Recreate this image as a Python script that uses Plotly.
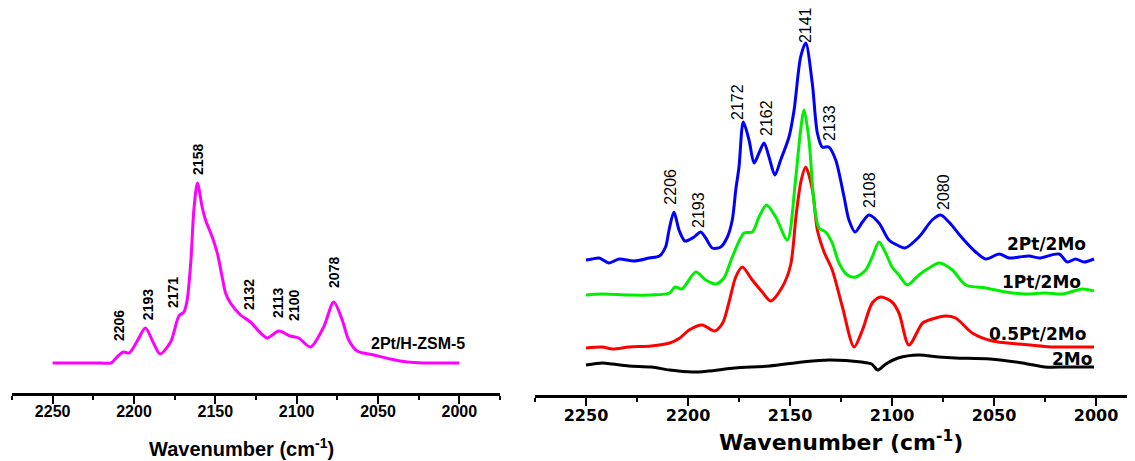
import plotly.graph_objects as go

# ---------------- Left panel: 2Pt/H-ZSM-5 ----------------
wn_zsm = [2250, 2240, 2230, 2220, 2214, 2211, 2206.6, 2203, 2198, 2193, 2188, 2184,
          2177.5, 2172.4, 2169.3, 2167.3, 2165, 2163.2, 2161, 2158.1, 2156, 2151.9,
          2148.8, 2145.8, 2143.7, 2140.7, 2134.5, 2128.4, 2122.2, 2118, 2111, 2104,
          2098.7, 2091.5, 2083.4, 2077.2, 2072, 2068, 2062.8, 2052.6, 2042.4, 2032,
          2022, 2011.7, 2000]
ab_zsm = [0.30, 0.30, 0.30, 0.30, 0.30, 0.35, 0.41, 0.40, 0.52, 0.65, 0.50, 0.39,
          0.51, 0.77, 0.81, 0.93, 1.33, 1.83, 2.10, 1.86, 1.73, 1.56,
          1.40, 1.16, 1.00, 0.90, 0.78, 0.71, 0.60, 0.55, 0.62, 0.57,
          0.55, 0.46, 0.66, 0.91, 0.73, 0.53, 0.42, 0.38, 0.34, 0.31,
          0.30, 0.30, 0.30]

# ---------------- Right panel ----------------
wn_2mo = [2250, 2242, 2237, 2229, 2218, 2209, 2198, 2190, 2177, 2160, 2144, 2131,
          2115, 2110, 2107, 2103, 2097, 2087, 2077, 2069, 2052, 2036, 2025, 2015, 2001]
ab_2mo = [0.30, 0.32, 0.31, 0.29, 0.28, 0.25, 0.23, 0.24, 0.27, 0.29, 0.33, 0.35,
          0.33, 0.31, 0.25, 0.31, 0.37, 0.40, 0.38, 0.37, 0.36, 0.32, 0.28, 0.28, 0.28]

wn_05pt = [2250, 2242, 2237, 2229, 2218, 2209, 2204, 2199.5, 2193, 2187, 2183, 2180,
           2176.6, 2173.4, 2168.5, 2163.6, 2159.5, 2153.8, 2149.7, 2147, 2144.5, 2142.3,
           2139, 2136.6, 2133.3, 2129.3, 2124.3, 2118.6, 2114.5, 2109.7, 2105.5, 2100,
           2096.6, 2091.7, 2085, 2080.3, 2073.7, 2068.8, 2060.7, 2050.8, 2037.7, 2021.4,
           2011.6, 2001]
ab_05pt = [0.47, 0.48, 0.46, 0.48, 0.49, 0.52, 0.57, 0.65, 0.70, 0.64, 0.72, 0.92,
           1.18, 1.28, 1.15, 1.03, 0.94, 1.08, 1.30, 1.80, 2.15, 2.28,
           2.05, 1.65, 1.43, 1.25, 0.88, 0.48, 0.65, 0.92, 0.98, 0.93,
           0.82, 0.50, 0.72, 0.76, 0.79, 0.77, 0.62, 0.54, 0.51, 0.48,
           0.48, 0.48]

wn_1pt = [2250, 2242, 2229, 2218, 2209, 2206.4, 2203, 2196.2, 2191.3, 2186.4, 2182.4,
          2178.3, 2172.5, 2168.5, 2165.2, 2161.5, 2157, 2151.3, 2147.3, 2144.8, 2143.1,
          2140.7, 2138.2, 2135.8, 2132.5, 2129.3, 2126, 2121.9, 2117.8, 2112.9, 2109.7,
          2106.4, 2103.1, 2100, 2096.6, 2092.5, 2086.8, 2081.9, 2076.7, 2070.4, 2063.9,
          2054, 2044.3, 2034.5, 2024.6, 2016.5, 2006.7, 2001]
ab_1pt = [1.00, 1.01, 1.00, 1.00, 1.02, 1.08, 1.06, 1.23, 1.15, 1.11, 1.17,
          1.38, 1.62, 1.63, 1.78, 1.90, 1.78, 1.55, 2.15, 2.65, 2.85,
          2.55, 1.92, 1.67, 1.63, 1.52, 1.32, 1.20, 1.18, 1.25, 1.38,
          1.53, 1.42, 1.28, 1.20, 1.10, 1.20, 1.27, 1.32, 1.25, 1.10,
          1.07, 1.03, 1.01, 1.02, 1.01, 1.06, 1.04]

wn_2pt = [2250, 2247, 2243.6, 2238.7, 2233.8, 2226.5, 2219, 2214, 2211, 2209.3, 2206.9,
          2204.4, 2201.5, 2197, 2193.8, 2191.3, 2188.1, 2184, 2180.7, 2178.3, 2176.6,
          2175, 2172.9, 2170.1, 2167.6, 2165.2, 2162.7, 2160.3, 2157.4, 2154.6, 2150.5,
          2148, 2144.8, 2142.3, 2139.1, 2136.6, 2134.2, 2131, 2127.6, 2123.5, 2121.1,
          2118.1, 2114.5, 2111.3, 2106.4, 2101.5, 2096.6, 2093.6, 2086.8, 2080.3, 2076.2,
          2072.1, 2065.6, 2059, 2054, 2047.5, 2042.6, 2037.7, 2032.8, 2027.9, 2018.1,
          2014.1, 2010, 2005.9, 2001]
ab_2pt = [1.35, 1.36, 1.37, 1.32, 1.36, 1.34, 1.37, 1.39, 1.48, 1.65, 1.83,
          1.65, 1.54, 1.58, 1.63, 1.57, 1.47, 1.48, 1.58, 1.75, 2.05,
          2.28, 2.73, 2.55, 2.32, 2.42, 2.52, 2.38, 2.20, 2.35, 2.58,
          2.85, 3.38, 3.52, 3.12, 2.62, 2.48, 2.48, 2.35, 1.98, 1.75,
          1.63, 1.73, 1.80, 1.72, 1.55, 1.49, 1.47, 1.58, 1.75, 1.80,
          1.73, 1.57, 1.43, 1.36, 1.41, 1.37, 1.38, 1.39, 1.37, 1.41,
          1.33, 1.36, 1.33, 1.36]

# peak labels: (text, x in cm-1, y-bottom in a.u.)
left_labels = [("2206", 2209.5, 0.50), ("2193", 2191.6, 0.71), ("2171", 2176.3, 0.83),
               ("2158", 2161.0, 2.16), ("2132", 2129.6, 0.81), ("2113", 2111.8, 0.73),
               ("2100", 2102.0, 0.70), ("2078", 2077.4, 1.03)]
right_labels = [("2206", 2209.0, 1.88), ("2193", 2195.1, 1.65), ("2172", 2176.0, 2.73),
                ("2162", 2161.8, 2.57), ("2141", 2142.6, 3.50), ("2133", 2130.9, 2.52),
                ("2108", 2111.3, 1.85), ("2080", 2075.0, 1.83)]
series_names = [("2Pt/2Mo", 2024.5, 1.51), ("1Pt/2Mo", 2026.5, 1.13),
                ("0.5Pt/2Mo", 2028.9, 0.61), ("2Mo", 2011.8, 0.36)]

tick_vals = [2250, 2200, 2150, 2100, 2050, 2000]
tick_text = ["2250", "2200", "2150", "2100", "2050", "2000"]

# page body adds an 8 px margin; figure is sized to fit the window
W, H = 1127, 453

fig = go.Figure()
fig.add_trace(go.Scatter(x=wn_zsm, y=ab_zsm, mode="lines", xaxis="x", yaxis="y",
                         line=dict(color="#FF00FF", width=3, shape="spline", smoothing=0.8),
                         showlegend=False))
for wn, ab, col in [(wn_2mo, ab_2mo, "#000000"), (wn_05pt, ab_05pt, "#FF0000"),
                    (wn_1pt, ab_1pt, "#00EE00"), (wn_2pt, ab_2pt, "#0000FF")]:
    fig.add_trace(go.Scatter(x=wn, y=ab, mode="lines", xaxis="x2", yaxis="y2",
                             line=dict(color=col, width=3, shape="spline", smoothing=0.8),
                             showlegend=False))

ann = []
for t, x, y in left_labels:
    ann.append(dict(text=t, x=x, y=y, xref="x", yref="y", textangle=-90, showarrow=False,
                    xanchor="center", yanchor="bottom",
                    font=dict(family="Arial", size=14, color="black", weight="bold")))
ann.append(dict(text="2Pt/H-ZSM-5", x=2025.2, y=0.50, xref="x", yref="y", showarrow=False,
                xanchor="center", yanchor="middle",
                font=dict(family="Arial", size=16, color="black", weight="bold")))
for t, x, y in right_labels:
    ann.append(dict(text=t, x=x, y=y, xref="x2", yref="y2", textangle=-90, showarrow=False,
                    xanchor="center", yanchor="bottom",
                    font=dict(family="Arial", size=16, color="black")))
for t, x, y in series_names:
    ann.append(dict(text=t, x=x, y=y, xref="x2", yref="y2", showarrow=False,
                    xanchor="center", yanchor="middle",
                    font=dict(family="DejaVu Sans", size=17, color="black", weight="bold")))
ann.append(dict(text="Wavenumber (cm<sup>-1</sup>)", x=233 / W, y=14 / H,
                xref="paper", yref="paper", showarrow=False, xanchor="center", yanchor="middle",
                font=dict(family="Arial", size=20, color="black", weight="bold")))
ann.append(dict(text="Wavenumber (cm<sup>-1</sup>)", x=833 / W, y=20 / H,
                xref="paper", yref="paper", showarrow=False, xanchor="center", yanchor="middle",
                font=dict(family="DejaVu Sans", size=22, color="black", weight="bold")))

common_x = dict(showline=True, linecolor="black", linewidth=2.5, ticks="outside",
                ticklen=8, tickwidth=2, tickcolor="black", showgrid=False, zeroline=False,
                tickvals=tick_vals, ticktext=tick_text,
                minor=dict(dtick=25, tick0=2000, ticks="outside", ticklen=4, tickwidth=2,
                           tickcolor="black", showgrid=False))

fig.update_layout(
    width=W, height=H,
    margin=dict(l=0, r=0, t=0, b=0),
    paper_bgcolor="white", plot_bgcolor="white",
    xaxis=dict(domain=[4 / W, 492 / W], range=[2275, 1975], anchor="y",
               ticklabelstandoff=-6,
               tickfont=dict(family="Arial", size=16, color="black", weight="bold"), **common_x),
    yaxis=dict(domain=[68 / H, 1], range=[0, 3.85], visible=False, anchor="x"),
    xaxis2=dict(domain=[527 / W, 1], range=[2275, 1980.9], anchor="y2",
                ticklabelstandoff=-4,
                tickfont=dict(family="DejaVu Sans", size=16, color="black", weight="bold"),
                **common_x),
    yaxis2=dict(domain=[66 / H, 1], range=[0, 3.87], visible=False, anchor="x2"),
    annotations=ann,
)

fig.write_html("out.html")
